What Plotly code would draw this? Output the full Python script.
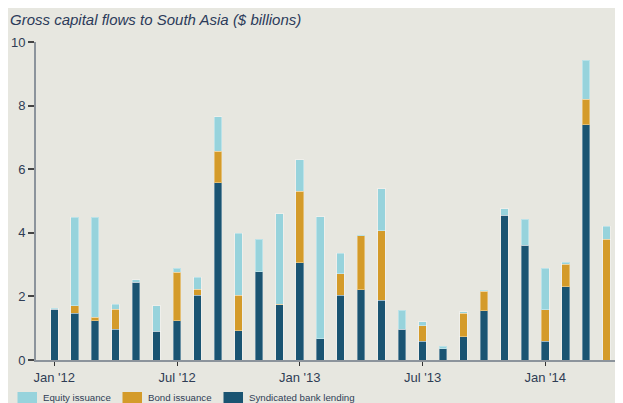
import plotly.graph_objects as go

months = ["Jan '12","Feb '12","Mar '12","Apr '12","May '12","Jun '12","Jul '12","Aug '12","Sep '12","Oct '12","Nov '12","Dec '12",
          "Jan '13","Feb '13","Mar '13","Apr '13","May '13","Jun '13","Jul '13","Aug '13","Sep '13","Oct '13","Nov '13","Dec '13",
          "Jan '14","Feb '14","Mar '14","Apr '14"]

bank = [1.60, 1.47, 1.24, 0.96, 2.44, 0.90, 1.24, 2.04, 5.57, 0.92, 2.78, 1.73,
        3.06, 0.67, 2.04, 2.21, 1.88, 0.96, 0.59, 0.36, 0.73, 1.55, 4.55, 3.61,
        0.59, 2.30, 7.40, 0.00]
bond = [0.00, 0.23, 0.11, 0.63, 0.00, 0.00, 1.52, 0.19, 1.00, 1.12, 0.00, 0.03,
        2.25, 0.00, 0.68, 1.69, 2.18, 0.00, 0.49, 0.00, 0.74, 0.61, 0.00, 0.00,
        0.99, 0.71, 0.80, 3.80]
equity = [0.02, 2.79, 3.14, 0.17, 0.09, 0.80, 0.13, 0.38, 1.08, 1.94, 1.02, 2.84,
          0.98, 3.83, 0.63, 0.03, 1.32, 0.60, 0.13, 0.08, 0.05, 0.03, 0.20, 0.82,
          1.31, 0.06, 1.22, 0.40]

series_names = ["Equity issuance", "Bond issuance", "Syndicated bank lending"]
series_colors = ["#97d3dc", "#d49b2a", "#1a5472"]

tick_idx = [0, 6, 12, 18, 24]
tick_labels = ["Jan '12", "Jul '12", "Jan '13", "Jul '13", "Jan '14"]
y_ticks = [0, 2, 4, 6, 8, 10]

x = list(range(len(months)))
BG = "#e7e7e0"
TXT = "#2f3d55"
edge = dict(color="rgba(255,255,255,0.35)", width=1)

# The page body has an 8px margin, so the figure is drawn 8px in from the window edge.
OFF = 8
W, H = 623 - OFF, 403 - OFF
L, R, T, B = 36 - OFF, 0, 42 - OFF, 43
pw, ph = W - L - R, H - T - B
def px(xw):          # window pixel x -> paper
    return (xw - OFF - L) / pw
def py(yw):          # window pixel y -> paper
    return (H - B - (yw - OFF)) / ph

fig = go.Figure()
for vals, name, col in [(bank, series_names[2], series_colors[2]),
                        (bond, series_names[1], series_colors[1]),
                        (equity, series_names[0], series_colors[0])]:
    fig.add_trace(go.Bar(x=x, y=vals, name=name, marker=dict(color=col, line=edge),
                         width=0.37, customdata=months, showlegend=False,
                         hovertemplate="%{customdata}: %{y:.2f}<extra>" + name + "</extra>"))

# legend: swatches + text
legend_swatch_x = [17.5, 122.5, 223.5]
shapes, annos = [], []
for sx, name, col in zip(legend_swatch_x, series_names, series_colors):
    shapes.append(dict(type="rect", xref="paper", yref="paper",
                       x0=px(sx), x1=px(sx + 19.5), y0=py(403), y1=py(392),
                       fillcolor=col, line=dict(width=0), layer="above"))
    annos.append(dict(text=name, xref="paper", yref="paper", x=px(sx + 23.5), y=py(397),
                      xanchor="left", yanchor="middle", showarrow=False,
                      font=dict(family="Liberation Sans, Arial, sans-serif",
                                size=9.7, color=TXT)))

fig.update_layout(
    width=W, height=H,
    barmode="stack",
    paper_bgcolor=BG, plot_bgcolor=BG,
    margin=dict(l=L, r=R, t=T, b=B, autoexpand=False),
    font=dict(family="Liberation Sans, Arial, sans-serif", size=13, color=TXT),
    title=dict(text="Gross capital flows to South Asia ($ billions)",
               x=(10 - OFF) / W, xanchor="left", xref="container",
               y=1 - (20 - OFF) / H, yanchor="middle", yref="container",
               font=dict(family="Liberation Sans, Arial, sans-serif", size=15, color="#2c3b5a", style="italic")),
    showlegend=False,
    shapes=shapes, annotations=annos,
    xaxis=dict(range=[-0.894, 27.8], tickvals=tick_idx, ticktext=tick_labels,
               ticks="outside", ticklen=4, tickcolor="#333", tickwidth=1,
               showline=True, linecolor="#8c949c", linewidth=2,
               showgrid=False, zeroline=False, fixedrange=True,
               tickfont=dict(size=13, color=TXT)),
    yaxis=dict(range=[0, 10], tickvals=y_ticks, ticks="outside", ticklen=6, tickcolor="#444", tickwidth=1.5,
               showline=True, linecolor="#8c949c", linewidth=2,
               showgrid=False, zeroline=False, fixedrange=True,
               tickfont=dict(size=13, color=TXT)),
)

fig.write_html("out.html")
